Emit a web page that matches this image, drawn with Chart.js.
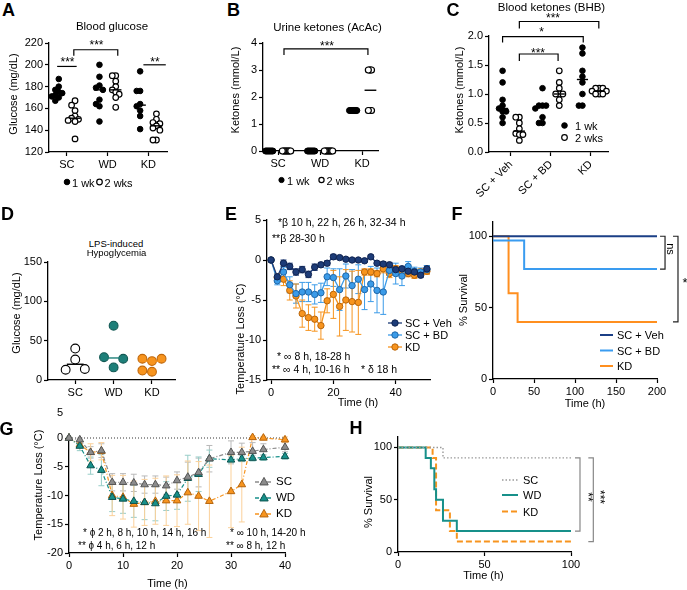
<!DOCTYPE html>
<html>
<head>
<meta charset="utf-8">
<script src="https://cdn.jsdelivr.net/npm/chart.js@4.4.1/dist/chart.umd.min.js"></script>
<style>
body { margin: 0; width: 687px; height: 590px; position: relative; overflow: hidden; background: #fff;
       font-family: "Liberation Sans", Arial, Helvetica, sans-serif; color: #000; }
canvas { position: absolute; }
.txt { position: absolute; white-space: nowrap; line-height: 1; }
</style>
</head>
<body>
<script>
// ---------- data ----------
const groups = ['SC', 'WD', 'KD'];
const groupsC = ['SC + Veh', 'SC + BD', 'KD'];

// A: blood glucose (mg/dL) per diet, 1 wk and 2 wks
const gluc1wk = [[187, 180, 177, 175, 174, 172, 171, 170, 167], [200, 189, 181, 179, 177, 168, 164, 162, 148], [194, 176, 176, 164, 162, 158, 153, 141]];
const gluc2wk = [[167, 163, 158, 153, 151, 150, 149, 148, 132], [190, 190, 185, 180, 177, 175, 173, 170, 161], [155, 150, 147, 146, 144, 142, 140, 131, 131]];

// B: urine AcAc (mmol/L)
const urine1wk = [[0, 0, 0, 0, 0, 0, 0, 0], [0, 0, 0, 0, 0, 0, 0, 0], [1.5, 1.5, 1.5, 1.5, 1.5, 1.5, 1.5, 1.5]];
const urine2wk = [[0, 0, 0, 0, 0, 0, 0, 0, 0], [0, 0, 0, 0, 0, 0, 0, 0, 0], [3, 3, 3, 3, 1.5, 1.5, 1.5, 1.5]];

// C: blood BHB (mmol/L)
const bhb1wk = [[1.4, 1.2, 0.9, 0.8, 0.75, 0.7, 0.7, 0.6, 0.5], [1.1, 0.8, 0.8, 0.8, 0.75, 0.6, 0.5, 0.5], [1.8, 1.7, 1.4, 1.3, 1.2, 1.0, 0.8, 0.8]];
const bhb2wk = [[0.6, 0.6, 0.5, 0.4, 0.32, 0.3, 0.3, 0.2], [1.4, 1.2, 1.1, 1.0, 1.0, 1.0, 0.9, 0.8], [1.1, 1.1, 1.1, 1.05, 1.05, 1.0, 1.0, 1.0]];

// D: glucose after LPS (mg/dL)
const lpsGluc = [[40, 26, 13, 14], [69, 16, 29, 27], [24, 27, 27, 10.5, 12]];

// E: temperature loss, mean and SEM every 2 h
const eTimes = [0, 2, 4, 6, 8, 10, 12, 14, 16, 18, 20, 22, 24, 26, 28, 30, 32, 34, 36, 38, 40, 42, 44, 46, 48, 50];
const eVeh = [0, -2.1, -0.4, -0.8, -1.5, -1.2, -1.8, -0.9, -0.6, -0.4, 0.4, 0.3, 0.1, 0.0, 0.0, -0.1, 0.4, -0.4, -0.5, -0.6, -1.2, -1.1, -1.4, -1.5, -1.9, -1.1];
const eVehErr = [0, 0.4, 0.4, 0.4, 0.4, 0.4, 0.4, 0.4, 0.3, 0.3, 0.3, 0.2, 0.2, 0.2, 0.2, 0.2, 0.2, 0.2, 0.3, 0.3, 0.3, 0.3, 0.3, 0.3, 0.3, 0.4];
const eBD = [0, -2.6, -1.5, -3.1, -4.2, -4.0, -4.0, -4.3, -4.1, -2.1, -2.2, -3.7, -2.0, -3.2, -2.4, -3.7, -3.0, -3.8, -4.0, -1.3, -1.7, -2.0, -0.8, -1.4, -1.5, -1.2];
const eBDErr = [0, 0.5, 0.6, 1.0, 1.2, 1.2, 1.2, 1.2, 1.2, 1.1, 1.1, 2.6, 1.5, 2.0, 1.8, 2.5, 2.2, 2.8, 2.8, 0.6, 1.3, 1.2, 0.6, 0.5, 0.5, 0.5];
const eKD = [0, -2.2, -2.4, -3.8, -4.5, -6.7, -7.2, -7.4, -8.2, -5.1, -4.3, -5.8, -5.0, -5.2, -5.3, -1.5, -1.5, -1.7, -1.1, -1.7, -1.1, -1.4, -1.7, -1.9, -1.5, -1.4];
const eKDErr = [0, 0.5, 0.8, 1.2, 1.5, 1.7, 1.6, 1.5, 1.7, 1.5, 3.0, 3.7, 3.8, 3.8, 4.0, 0.4, 0.4, 0.4, 0.5, 0.5, 0.4, 0.4, 0.4, 0.4, 0.4, 0.4];

// F: survival (%)
const fVehT = [0, 200], fVehS = [100, 100];
const fBDT = [0, 38, 200], fBDS = [97, 77, 77];
const fKDT = [0, 19, 30, 200], fKDS = [100, 60, 40, 40];

// G: temperature loss by diet
const gTimes = [0, 2, 4, 6, 8, 10, 12, 14, 16, 18, 20, 22, 24, 26, 30, 32, 34, 36, 40];
const gSC = [0, -0.3, -2.5, -2.2, -7.7, -7.7, -7.8, -8.1, -8.1, -8.3, -7.4, -6.8, -6.0, -3.6, -2.5, -2.5, -2.3, -2.0, -1.6];
const gSCErr = [0, 0.3, 1.0, 1.2, 1.5, 1.5, 1.5, 1.5, 1.5, 1.5, 1.5, 2.6, 2.5, 2.3, 2.0, 1.6, 1.5, 1.0, 0.8];
const gWD = [0, -1.4, -4.8, -5.6, -10.3, -10.6, -11.0, -11.2, -11.4, -10.1, -9.9, -7.0, -6.3, -3.6, -3.8, -3.6, -3.5, -3.4, -3.2];
const gWDErr = [0, 0.8, 1.5, 2.7, 2.5, 2.5, 2.8, 3.0, 3.0, 2.5, 2.5, 4.0, 3.0, 1.5, 0.5, 0.5, 0.5, 0.5, 0.5];
const gKD = [0, -1.2, -2.5, -2.3, -10.0, -10.3, -11.5, -11.2, -11.0, -10.9, -10.9, -9.5, -10.1, -11.0, -9.3, -8.1, 0.1, 0, -0.3];
const gKDErr = [0, 0.5, 1.5, 1.5, 3.5, 3.8, 4.0, 4.0, 4.0, 4.3, 4.5, 5.5, 6.0, 6.3, 6.3, 6.5, 0.3, 0.3, 0.5];

// H: survival (%)
const hSCT = [0, 26, 100], hSCS = [100, 90, 90];
const hWDT = [0, 16, 19, 21, 22, 26, 34, 100], hWDS = [100, 90, 80, 60, 50, 30, 20, 20];
const hKDT = [0, 20, 22, 30, 34, 100], hKDS = [100, 90, 40, 20, 10, 10];

// ---------- colours ----------
const NAVY = '#1d3c78', LBLUE = '#3b9be8', ORANGE = '#f7941e', TEAL = '#17908a', GREY = '#8c8c8c';

Chart.defaults.font.family = '"Liberation Sans", Arial, Helvetica, sans-serif';
Chart.defaults.font.size = 11;
Chart.defaults.color = '#000';
Chart.defaults.animation = false;
Chart.defaults.events = [];
Chart.defaults.plugins.legend.display = false;
Chart.defaults.plugins.tooltip.enabled = false;

// ---------- helpers ----------
function text(s, x, y, o = {}) {
    const d = document.createElement('div');
    d.className = 'txt';
    d.textContent = s;
    d.style.left = x + 'px';
    d.style.top = y + 'px';
    d.style.fontSize = (o.size || 11) + 'px';
    if (o.bold) d.style.fontWeight = 'bold';
    if (o.color) d.style.color = o.color;
    const ax = o.align === 'left' ? '0' : '-50%';
    d.style.transform = `translate(${ax},-50%)` + (o.rot ? ` rotate(${o.rot}deg)` : '');
    document.body.appendChild(d);
}

const median = vals => {
    const s = [...vals].sort((a, b) => a - b), m = s.length >> 1;
    return s.length % 2 ? s[m] : (s[m - 1] + s[m]) / 2;
};

// spread points of one group sideways so they do not sit on each other
function swarm(vals, centre, step, gap) {
    const placed = [];
    return vals.map(v => {
        let k = 0, off = 0;
        while (true) {
            off = k === 0 ? 0 : (k % 2 ? -1 : 1) * Math.ceil(k / 2) * step;
            if (!placed.some(p => p.o === off && Math.abs(p.v - v) < gap)) break;
            k++;
        }
        placed.push({ o: off, v });
        return { x: centre + off, y: v };
    });
}

const pairs = (xs, ys) => xs.map((x, i) => ({ x, y: ys[i] }));

function medLine(vals, c, w, color) {
    const m = median(vals);
    return { data: [{ x: c - w, y: m }, { x: c + w, y: m }], showLine: true, pointRadius: 0,
             borderColor: color || '#000', borderWidth: 1.4 };
}

function axis(min, max, vals, fmt, extraTicks) {
    return {
        type: 'linear', min, max,
        afterBuildTicks: s => { s.ticks = vals.map(v => ({ value: v })); },
        grid: { drawOnChartArea: false, drawTicks: true, tickLength: 4, tickColor: '#000', tickWidth: 1.2 },
        border: { color: '#000', width: 1.3 },
        ticks: Object.assign({ padding: 2, autoSkip: false, maxRotation: 0, color: '#000',
                               callback: fmt || (v => String(v)) }, extraTicks || {})
    };
}

const errBars = {
    id: 'errBars',
    beforeDatasetsDraw(chart) {
        const { ctx } = chart;
        chart.data.datasets.forEach((ds, i) => {
            if (!ds.err) return;
            const meta = chart.getDatasetMeta(i);
            ctx.save();
            ctx.strokeStyle = ds.errColor || ds.borderColor;
            ctx.lineWidth = 1;
            meta.data.forEach((pt, j) => {
                const e = ds.err[j];
                if (!e) return;
                const v = ds.data[j].y;
                const y1 = chart.scales.y.getPixelForValue(v + e), y2 = chart.scales.y.getPixelForValue(v - e);
                ctx.beginPath();
                ctx.moveTo(pt.x, y1); ctx.lineTo(pt.x, y2);
                ctx.moveTo(pt.x - 3, y1); ctx.lineTo(pt.x + 3, y1);
                ctx.moveTo(pt.x - 3, y2); ctx.lineTo(pt.x + 3, y2);
                ctx.stroke();
            });
            ctx.restore();
        });
    }
};

const brackets = {
    id: 'brackets',
    afterDatasetsDraw(chart, args, opts) {
        if (!opts.items) return;
        const { ctx } = chart, x = chart.scales.x, y = chart.scales.y;
        ctx.save();
        ctx.lineWidth = 1.2;
        opts.items.forEach(b => {
            ctx.strokeStyle = b.color || '#000';
            ctx.beginPath();
            if (b.vert) {
                const px = x.getPixelForValue(b.x), y1 = y.getPixelForValue(b.y1), y2 = y.getPixelForValue(b.y2);
                ctx.moveTo(px - b.tip, y1); ctx.lineTo(px, y1); ctx.lineTo(px, y2); ctx.lineTo(px - b.tip, y2);
            } else {
                const x1 = x.getPixelForValue(b.x1), x2 = x.getPixelForValue(b.x2), py = y.getPixelForValue(b.y);
                const t = b.tip || 0;
                ctx.moveTo(x1, py + t); ctx.lineTo(x1, py); ctx.lineTo(x2, py); ctx.lineTo(x2, py + t);
            }
            ctx.stroke();
        });
        ctx.restore();
    }
};

// legend symbols, given in page pixels
const keys = {
    id: 'keys',
    afterDraw(chart, args, opts) {
        if (!opts.items) return;
        const { ctx } = chart, ox = opts.ox, oy = opts.oy;
        ctx.save();
        opts.items.forEach(k => {
            const y = k.y - oy;
            if (k.x1 !== undefined) {
                ctx.strokeStyle = k.color;
                ctx.lineWidth = k.width || 1.3;
                ctx.setLineDash(k.dash || []);
                ctx.beginPath(); ctx.moveTo(k.x1 - ox, y); ctx.lineTo(k.x2 - ox, y); ctx.stroke();
                ctx.setLineDash([]);
            }
            if (k.mark) {
                const x = k.mx - ox, r = k.r || 3;
                ctx.fillStyle = k.fill; ctx.strokeStyle = k.stroke; ctx.lineWidth = k.bw || 1;
                ctx.beginPath();
                if (k.mark === 'triangle') {
                    ctx.moveTo(x, y - r * 1.1); ctx.lineTo(x + r, y + r * 0.7); ctx.lineTo(x - r, y + r * 0.7); ctx.closePath();
                } else {
                    ctx.arc(x, y, r, 0, Math.PI * 2);
                }
                ctx.fill(); ctx.stroke();
            }
        });
        ctx.restore();
    }
};

function panel(box, datasets, x, y, opts = {}) {
    const yW = 40, xH = 60, pt = box.pt || 12, pr = box.pr || 12;
    const cv = document.createElement('canvas');
    const w = box.r - box.l + yW + pr, h = box.b - box.t + pt + xH;
    cv.width = w; cv.height = h;
    Object.assign(cv.style, { left: (box.l - yW) + 'px', top: (box.t - pt) + 'px', width: w + 'px', height: h + 'px' });
    document.body.appendChild(cv);
    x.afterFit = s => { s.height = xH; };
    y.afterFit = s => { s.width = yW; };
    datasets.forEach(d => { if (d.clip === undefined) d.clip = false; });
    return new Chart(cv, {
        type: 'scatter',
        data: { datasets },
        options: {
            responsive: false,
            layout: { padding: { top: pt, right: pr, left: 0, bottom: 0 } },
            scales: { x, y },
            plugins: {
                brackets: { items: opts.brackets || [] },
                keys: { items: opts.keys || [], ox: box.l - yW, oy: box.t - pt }
            }
        },
        plugins: [errBars, brackets, keys]
    });
}

const filled = r => ({ pointRadius: r, pointBackgroundColor: '#000', pointBorderColor: '#000', pointBorderWidth: 1 });
const hollow = r => ({ pointRadius: r, pointBackgroundColor: '#fff', pointBorderColor: '#000', pointBorderWidth: 1.2 });
const catLabel = names => v => names[Math.round(v) - 1];

// ---------- A ----------
(() => {
    const ds = [];
    groups.forEach((g, i) => {
        ds.push(medLine(gluc1wk[i], i + 0.8, 0.14));
        ds.push(medLine(gluc2wk[i], i + 1.2, 0.14));
    });
    groups.forEach((g, i) => {
        ds.push({ data: swarm(gluc1wk[i], i + 0.8, 0.085, 4.5), ...filled(2.8) });
        ds.push({ data: swarm(gluc2wk[i], i + 1.2, 0.085, 4.5), ...hollow(2.8) });
    });
    panel({ l: 49, t: 43, r: 167, b: 152 }, ds,
        axis(0.56, 3.46, [1, 2, 3], catLabel(groups)),
        axis(120, 220, [120, 140, 160, 180, 200, 220]),
        { brackets: [
            { x1: 0.76, x2: 1.24, y: 198.5 },
            { x1: 1.17, x2: 2.25, y: 213.8, tip: 6 },
            { x1: 2.88, x2: 3.43, y: 200 }
        ], keys: [
            { mark: 'circle', mx: 67, y: 182, r: 2.8, fill: '#000', stroke: '#000' },
            { mark: 'circle', mx: 99.5, y: 182, r: 2.8, fill: '#fff', stroke: '#000', bw: 1.2 }
        ] });
})();

// ---------- B ----------
(() => {
    const ds = [medLine(urine1wk[2], 2.8, 0.14), medLine(urine2wk[2], 3.2, 0.14)];
    groups.forEach((g, i) => {
        ds.push({ data: swarm(urine1wk[i], i + 0.8, 0.025, 0.05), ...filled(3) });
        ds.push({ data: swarm(urine2wk[i], i + 1.2, 0.025, 0.05), ...hollow(3) });
    });
    panel({ l: 263, t: 43, r: 378, b: 151 }, ds,
        axis(0.64, 3.38, [1, 2, 3], catLabel(groups)),
        axis(0, 4, [0, 1, 2, 3, 4]),
        { brackets: [{ x1: 1.14, x2: 3.14, y: 3.78, tip: 6 }],
          keys: [
            { mark: 'circle', mx: 281.5, y: 180, r: 2.6, fill: '#000', stroke: '#000' },
            { mark: 'circle', mx: 321.5, y: 180, r: 2.6, fill: '#fff', stroke: '#000', bw: 1.2 }
          ] });
})();

// ---------- C ----------
(() => {
    const ds = [];
    groupsC.forEach((g, i) => {
        ds.push(medLine(bhb1wk[i], i + 0.79, 0.14));
        ds.push(medLine(bhb2wk[i], i + 1.21, 0.14));
    });
    groupsC.forEach((g, i) => {
        ds.push({ data: swarm(bhb1wk[i], i + 0.79, 0.09, 0.09), ...filled(2.8) });
        ds.push({ data: swarm(bhb2wk[i], i + 1.21, 0.09, 0.09), ...hollow(2.8) });
    });
    panel({ l: 489, t: 36, r: 608, b: 152, pt: 35 }, ds,
        axis(0.45, 3.43, [1, 2, 3], catLabel(groupsC), { minRotation: 45, maxRotation: 45 }),
        axis(0, 2, [0, 0.5, 1, 1.5, 2], v => v.toFixed(1)),
        { brackets: [
            { x1: 1.21, x2: 2.18, y: 1.69, tip: 7 },
            { x1: 0.79, x2: 2.81, y: 1.99, tip: 6 },
            { x1: 1.21, x2: 3.2, y: 2.25, tip: 7 }
        ], keys: [
            { mark: 'circle', mx: 564.5, y: 125.5, r: 2.8, fill: '#000', stroke: '#000' },
            { mark: 'circle', mx: 564.5, y: 137.5, r: 2.8, fill: '#fff', stroke: '#000', bw: 1.2 }
        ] });
})();

// ---------- D ----------
(() => {
    const fills = ['#fff', '#1e7f79', ORANGE], edges = ['#000', '#135954', '#c0680c'], lines = ['#000', '#1e7f79', ORANGE];
    const ds = [];
    groups.forEach((g, i) => ds.push(medLine(lpsGluc[i], i + 1, 0.22, lines[i])));
    groups.forEach((g, i) => ds.push({ data: swarm(lpsGluc[i], i + 1, 0.25, 13.5), pointRadius: 4.4,
        pointBackgroundColor: fills[i], pointBorderColor: edges[i], pointBorderWidth: 1.1 }));
    panel({ l: 48, t: 262, r: 175, b: 380 }, ds,
        axis(0.29, 3.6, [1, 2, 3], catLabel(groups)),
        axis(0, 150, [0, 50, 100, 150]));
})();

// ---------- E ----------
(() => {
    const line = (ys, err, col, edge) => ({ data: pairs(eTimes, ys), err, showLine: true, borderColor: col,
        borderWidth: 1.3, pointRadius: 3.2, pointBackgroundColor: col, pointBorderColor: edge, pointBorderWidth: 1 });
    panel({ l: 267, t: 220, r: 430, b: 380 }, [
        line(eVeh, eVehErr, NAVY, '#0f2350'),
        line(eBD, eBDErr, LBLUE, '#1f67a8'),
        line(eKD, eKDErr, ORANGE, '#b9650a')
    ], axis(-1.3, 51, [0, 20, 40]), axis(-15, 5, [-15, -10, -5, 0, 5]), {
        keys: [
            { x1: 388, x2: 402, y: 323, color: NAVY, mark: 'circle', mx: 395, r: 3.2, fill: NAVY, stroke: '#0f2350' },
            { x1: 388, x2: 402, y: 335, color: LBLUE, mark: 'circle', mx: 395, r: 3.2, fill: LBLUE, stroke: '#1f67a8' },
            { x1: 388, x2: 402, y: 347, color: ORANGE, mark: 'circle', mx: 395, r: 3.2, fill: ORANGE, stroke: '#b9650a' }
        ] });
})();

// ---------- F ----------
(() => {
    const surv = (t, s, col) => ({ data: pairs(t, s), showLine: true, stepped: true, borderColor: col, borderWidth: 2, pointRadius: 0 });
    panel({ l: 493, t: 222, r: 657, b: 379, pr: 40 }, [
        surv(fVehT, fVehS, '#1b3f86'),
        surv(fBDT, fBDS, '#3a9cf0'),
        surv(fKDT, fKDS, '#ff8f1f')
    ], axis(0, 200, [0, 50, 100, 150, 200]), axis(0, 110, [0, 50, 100]), {
        brackets: [
            { vert: true, x: 209.8, y1: 100, y2: 77, tip: 5, color: '#222' },
            { vert: true, x: 225.6, y1: 100, y2: 40, tip: 5, color: '#222' }
        ],
        keys: [
            { x1: 600, x2: 613, y: 335, color: '#1b3f86', width: 2 },
            { x1: 600, x2: 613, y: 350.5, color: '#3a9cf0', width: 2 },
            { x1: 600, x2: 613, y: 366, color: '#ff8f1f', width: 2 }
        ] });
})();

// ---------- G ----------
(() => {
    const tri = (ys, err, col, edge, ecol) => ({ data: pairs(gTimes, ys), err, errColor: ecol, showLine: true,
        borderColor: col, borderWidth: 1.2, borderDash: [4, 2, 1, 2], pointStyle: 'triangle', pointRadius: 4.4,
        pointBackgroundColor: col, pointBorderColor: edge, pointBorderWidth: 1 });
    panel({ l: 69, t: 438, r: 285, b: 553 }, [
        tri(gSC, gSCErr, GREY, '#555', '#b9b9b9'),
        tri(gWD, gWDErr, TEAL, '#0b524e', '#98cdc8'),
        tri(gKD, gKDErr, ORANGE, '#b5640c', '#fbd19a'),
        { data: [{ x: 0, y: 0 }, { x: 40, y: 0 }], showLine: true, pointRadius: 0, borderColor: '#333', borderWidth: 1, borderDash: [1, 2] }
    ], axis(0, 40, [0, 10, 20, 30, 40]), axis(-20, 0, [-20, -15, -10, -5, 0]), {
        keys: [
            { x1: 255, x2: 273, y: 482, color: GREY, dash: [4, 2], mark: 'triangle', mx: 264, r: 4.2, fill: GREY, stroke: '#555' },
            { x1: 255, x2: 273, y: 498, color: TEAL, dash: [4, 2], mark: 'triangle', mx: 264, r: 4.2, fill: TEAL, stroke: '#0b524e' },
            { x1: 255, x2: 273, y: 514, color: ORANGE, dash: [4, 2], mark: 'triangle', mx: 264, r: 4.2, fill: ORANGE, stroke: '#b5640c' }
        ] });
})();

// ---------- H ----------
(() => {
    const surv = (t, s, col, dash, w) => ({ data: pairs(t, s), showLine: true, stepped: true, borderColor: col,
        borderWidth: w, borderDash: dash, pointRadius: 0 });
    panel({ l: 398, t: 437, r: 571, b: 552, pr: 45 }, [
        surv(hSCT, hSCS, '#9a9a9a', [1.5, 2], 1.4),
        surv(hWDT, hWDS, TEAL, [], 2),
        surv(hKDT, hKDS, ORANGE, [6, 3], 2)
    ], axis(0, 100, [0, 50, 100]), axis(0, 110, [0, 50, 100]), {
        brackets: [
            { vert: true, x: 105.2, y1: 90, y2: 20, tip: 5, color: '#888' },
            { vert: true, x: 112.9, y1: 90, y2: 10, tip: 5, color: '#888' }
        ],
        keys: [
            { x1: 502, x2: 518, y: 480, color: '#9a9a9a', width: 1.4, dash: [1.5, 2] },
            { x1: 502, x2: 518, y: 495, color: TEAL, width: 2 },
            { x1: 502, x2: 518, y: 511.5, color: ORANGE, width: 2, dash: [6, 3] }
        ] });
})();

// ---------- text ----------
[['A', 8.5, 10], ['B', 233.5, 10], ['C', 453, 10], ['D', 7.5, 214], ['E', 231, 214],
 ['F', 457, 214], ['G', 6.5, 429], ['H', 356, 428]].forEach(([s, x, y]) => text(s, x, y, { size: 18, bold: true }));

// titles
text('Blood glucose', 112, 27, { size: 11.5 });
text('Urine ketones (AcAc)', 327.5, 28, { size: 11.5 });
text('Blood ketones (BHB)', 551.5, 7.5, { size: 11.5 });
text('LPS-induced', 116, 243.5, { size: 9.5 });
text('Hypoglycemia', 116.5, 253, { size: 9.5 });

// axis titles
text('Glucose (mg/dL)', 13, 93.5, { rot: -90 });
text('Ketones (mmol/L)', 235, 90, { rot: -90 });
text('Ketones (mmol/L)', 459, 90, { rot: -90 });
text('Glucose (mg/dL)', 16, 313, { rot: -90 });
text('Temperature Loss (°C)', 240, 339, { rot: -90 });
text('% Survival', 463, 300, { rot: -90 });
text('Temperature Loss (°C)', 38, 485, { rot: -90 });
text('% Survival', 368, 502, { rot: -90 });
text('Time (h)', 358, 402);
text('Time (h)', 585, 403);
text('Time (h)', 167.5, 583);
text('Time (h)', 483.5, 575);
text('5', 60, 412);

// legends
text('1 wk', 72, 182.5, { align: 'left' });
text('2 wks', 104.5, 182.5, { align: 'left' });
text('1 wk', 287, 180.5, { align: 'left' });
text('2 wks', 326.5, 180.5, { align: 'left' });
text('1 wk', 575, 125.5, { align: 'left' });
text('2 wks', 575, 137.5, { align: 'left' });
text('SC + Veh', 405, 323, { align: 'left' });
text('SC + BD', 405, 335, { align: 'left' });
text('KD', 405, 347, { align: 'left' });
text('SC + Veh', 617, 335, { align: 'left' });
text('SC + BD', 617, 350.5, { align: 'left' });
text('KD', 617, 366, { align: 'left' });
text('SC', 276, 482, { align: 'left', size: 11.5 });
text('WD', 276, 498, { align: 'left', size: 11.5 });
text('KD', 276, 514, { align: 'left', size: 11.5 });
text('SC', 523, 480, { align: 'left' });
text('WD', 523, 495, { align: 'left' });
text('KD', 523, 511.5, { align: 'left' });

// significance marks
text('***', 67.5, 62, { size: 12 });
text('***', 96.5, 45, { size: 12 });
text('**', 155, 62, { size: 12 });
text('***', 327, 46, { size: 12 });
text('***', 553, 18, { size: 12 });
text('*', 541.5, 32, { size: 12 });
text('***', 538, 53, { size: 12 });
text('ns', 670, 249, { rot: 90 });
text('*', 685, 282, { size: 13 });
text('**', 588, 497, { size: 12, rot: 90 });
text('***', 600, 497, { size: 12, rot: 90 });

// post-hoc notes
text('*β 10 h, 22 h, 26 h, 32-34 h', 278, 222, { align: 'left', size: 10.5 });
text('**β 28-30 h', 272, 238, { align: 'left', size: 10.5 });
text('* ∞ 8 h, 18-28 h', 277, 356, { align: 'left', size: 10.5 });
text('** ∞ 4 h, 10-16 h', 272, 368.5, { align: 'left', size: 10.5 });
text('* δ 18 h', 361, 368.5, { align: 'left', size: 10.5 });
text('* ɸ 2 h, 8 h, 10 h, 14 h, 16 h', 83, 533, { align: 'left', size: 10 });
text('** ɸ 4 h, 6 h, 12 h', 78, 546, { align: 'left', size: 10 });
text('* ∞ 10 h, 14-20 h', 230, 533, { align: 'left', size: 10 });
text('** ∞ 8 h, 12 h', 226, 546, { align: 'left', size: 10 });
</script>
</body>
</html>
